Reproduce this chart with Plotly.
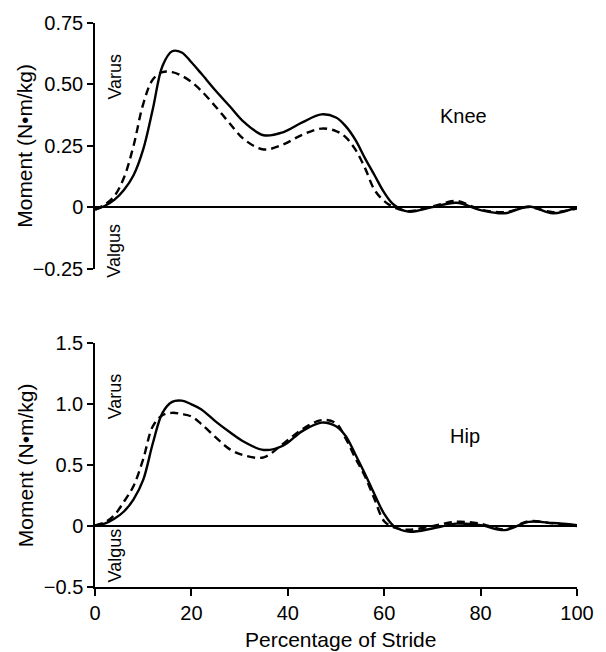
import plotly.graph_objects as go

# ---- data ----
stride = [0, 2, 4, 6, 8, 10, 12, 14, 16, 18, 20, 22, 25, 28, 31, 35, 39, 43, 47, 50,
          52, 54, 56, 58, 60, 62, 65, 70, 75, 80, 85, 90, 95, 100]

knee_solid = [-0.01, 0.005, 0.03, 0.07, 0.13, 0.235, 0.40, 0.575, 0.635, 0.63, 0.59, 0.545,
              0.475, 0.41, 0.345, 0.293, 0.305, 0.345, 0.378, 0.365,
              0.33, 0.275, 0.20, 0.13, 0.06, 0.01, -0.018, 0.0, 0.018, -0.012, -0.025, 0.003, -0.025, 0.0]

knee_dashed = [-0.01, 0.01, 0.045, 0.12, 0.25, 0.42, 0.52, 0.55, 0.55, 0.535, 0.51, 0.475,
               0.41, 0.34, 0.275, 0.235, 0.255, 0.295, 0.32, 0.31,
               0.285, 0.235, 0.16, 0.07, 0.025, 0.0, -0.016, 0.003, 0.025, -0.01, -0.02, 0.0, -0.02, -0.005]

hip_solid = [0.005, 0.02, 0.06, 0.12, 0.22, 0.38, 0.68, 0.93, 1.02, 1.03, 1.0, 0.96,
             0.86, 0.77, 0.69, 0.625, 0.66, 0.78, 0.85, 0.82,
             0.74, 0.59, 0.43, 0.26, 0.10, 0.0, -0.045, -0.02, 0.02, 0.008, -0.033, 0.035, 0.025, 0.008]

hip_dashed = [0.005, 0.03, 0.09, 0.2, 0.33, 0.55, 0.82, 0.91, 0.93, 0.92, 0.9, 0.84,
              0.73, 0.63, 0.58, 0.565, 0.675, 0.795, 0.87, 0.845,
              0.72, 0.56, 0.41, 0.22, 0.04, -0.01, -0.03, 0.0, 0.035, 0.02, -0.027, 0.04, 0.022, 0.0]

knee_ticks = [-0.25, 0, 0.25, 0.5, 0.75]
knee_ticktext = ["\u22120.25", "0", "0.25", "0.50", "0.75"]
hip_ticks = [-0.5, 0, 0.5, 1.0, 1.5]
hip_ticktext = ["\u22120.5", "0", "0.5", "1.0", "1.5"]
x_ticks = [0, 20, 40, 60, 80, 100]

FONT = "Liberation Sans, Arial, Helvetica, sans-serif"

fig = go.Figure()

line_w = 2.4
dash = "8px,5px"

fig.add_trace(go.Scatter(x=stride, y=knee_dashed, mode="lines", xaxis="x", yaxis="y",
                         line=dict(color="black", width=line_w, dash=dash, shape="spline", smoothing=1.0)))
fig.add_trace(go.Scatter(x=stride, y=knee_solid, mode="lines", xaxis="x", yaxis="y",
                         line=dict(color="black", width=line_w, shape="spline", smoothing=1.0)))
fig.add_trace(go.Scatter(x=stride, y=hip_dashed, mode="lines", xaxis="x2", yaxis="y2",
                         line=dict(color="black", width=line_w, dash=dash, shape="spline", smoothing=1.0)))
fig.add_trace(go.Scatter(x=stride, y=hip_solid, mode="lines", xaxis="x2", yaxis="y2",
                         line=dict(color="black", width=line_w, shape="spline", smoothing=1.0)))

yaxis_common = dict(showline=True, linecolor="black", linewidth=1.5, ticks="outside",
                    ticklen=6, tickwidth=1.5, tickcolor="black", showgrid=False,
                    zeroline=True, zerolinecolor="black", zerolinewidth=1.5,
                    tickfont=dict(family=FONT, size=20, color="black"))

fig.update_layout(
    width=606, height=652,
    margin=dict(l=95, r=19, t=22, b=65),
    paper_bgcolor="white", plot_bgcolor="white",
    showlegend=False,
    font=dict(family=FONT, color="black"),
    xaxis=dict(domain=[0, 1], range=[0, 100], visible=False, anchor="y"),
    yaxis=dict(domain=[0.5646, 1.0], range=[-0.25, 0.75], tickvals=knee_ticks,
               ticktext=knee_ticktext, anchor="x", **yaxis_common),
    xaxis2=dict(domain=[0, 1], range=[0, 100], anchor="y2", showline=True, linecolor="black",
                linewidth=1.5, ticks="outside", ticklen=7, tickwidth=1.5, tickcolor="black",
                showgrid=False, zeroline=False, tickvals=x_ticks,
                tickfont=dict(family=FONT, size=20, color="black")),
    yaxis2=dict(domain=[0.0, 0.4319], range=[-0.5, 1.5], tickvals=hip_ticks,
                ticktext=hip_ticktext, anchor="x2", **yaxis_common),
)

ann = []
# y-axis titles
ann.append(dict(text="Moment (N\u2022m/kg)", xref="paper", yref="y domain", x=-0.1452, y=0.5,
                xanchor="center", yanchor="middle", textangle=-90, showarrow=False,
                font=dict(family=FONT, size=21, color="black")))
ann.append(dict(text="Moment (N\u2022m/kg)", xref="paper", yref="y2 domain", x=-0.1452, y=0.5,
                xanchor="center", yanchor="middle", textangle=-90, showarrow=False,
                font=dict(family=FONT, size=21, color="black")))
# x-axis title
ann.append(dict(text="Percentage of Stride", xref="x2", yref="paper", x=50.9, y=-0.0933,
                xanchor="center", yanchor="middle", showarrow=False,
                font=dict(family=FONT, size=21, color="black")))
# panel labels
ann.append(dict(text="Knee", xref="x", yref="y", x=76.5, y=0.371, xanchor="center", yanchor="middle",
                showarrow=False, font=dict(family=FONT, size=20, color="black")))
ann.append(dict(text="Hip", xref="x2", yref="y2", x=76.8, y=0.743, xanchor="center", yanchor="middle",
                showarrow=False, font=dict(family=FONT, size=20, color="black")))
# Varus / Valgus
for xr, yr, yv, txt in [("x", "y", 0.53, "Varus"), ("x", "y", -0.179, "Valgus"),
                        ("x2", "y2", 1.062, "Varus"), ("x2", "y2", -0.245, "Valgus")]:
    ann.append(dict(text=txt, xref=xr, yref=yr, x=4.06, y=yv, xanchor="center", yanchor="middle",
                    textangle=-90, showarrow=False, font=dict(family=FONT, size=18, color="black")))

fig.update_layout(annotations=ann)

fig.write_html("out.html")
